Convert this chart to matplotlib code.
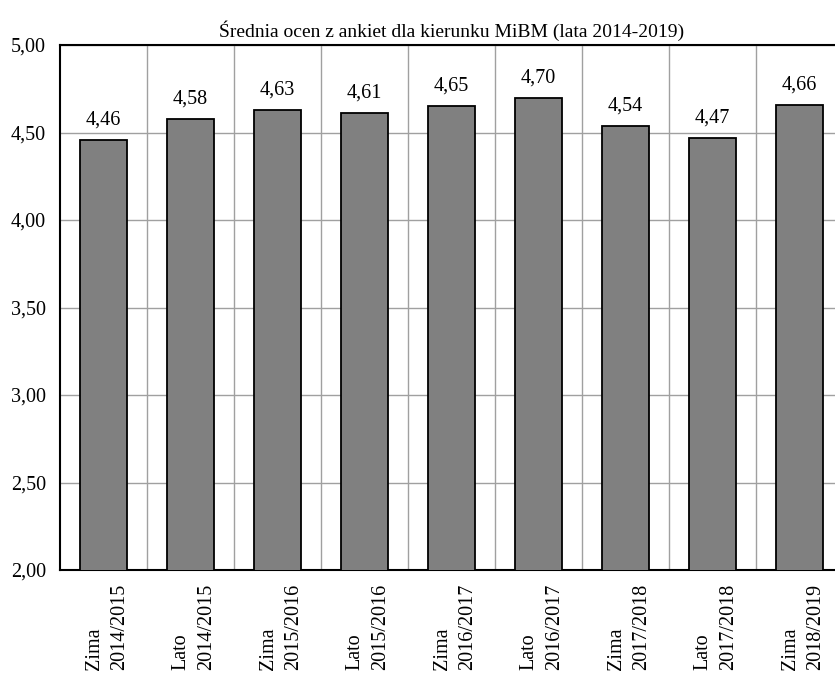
import numpy as np
import matplotlib
matplotlib.use("Agg")
import matplotlib.pyplot as plt
from matplotlib.ticker import FixedLocator, FuncFormatter

plt.rcParams["font.family"] = ["Liberation Serif", "DejaVu Serif"]

semesters = ["Zima", "Lato", "Zima", "Lato", "Zima", "Lato", "Zima", "Lato", "Zima"]
years = ["2014/2015", "2014/2015", "2015/2016", "2015/2016", "2016/2017",
         "2016/2017", "2017/2018", "2017/2018", "2018/2019"]
scores = [4.46, 4.58, 4.63, 4.61, 4.65, 4.70, 4.54, 4.47, 4.66]
title = "Średnia ocen z ankiet dla kierunku MiBM (lata 2014-2019)"

labels = [f"{s}\n{y}" for s, y in zip(semesters, years)]
x = np.arange(len(scores))


def comma(v, _=None):
    return f"{v:.2f}".replace(".", ",")


fig = plt.figure(figsize=(8.35, 6.73), dpi=100)
# axes runs a little past the right edge, like the original
ax = fig.add_axes([60 / 835, 1 - 570 / 673, 9 * 87 / 835, 525 / 673])

bars = ax.bar(x, scores, width=0.55, color="#808080", edgecolor="black",
              linewidth=1.3, zorder=3)
for b, v in zip(bars, scores):
    ax.annotate(comma(v), (b.get_x() + b.get_width() / 2, v),
                xytext=(0, 7.5), textcoords="offset points",
                ha="center", va="bottom", fontsize=14.5)

ax.set_xlim(-0.5, len(scores) - 0.5)
ax.set_ylim(2.0, 5.0)
ax.set_yticks(np.arange(2.0, 5.01, 0.5))
ax.yaxis.set_major_formatter(FuncFormatter(comma))

# ticks are invisible (length 0); small offset centres the two-line labels
ax.set_xticks(x + 0.04)
ax.set_xticklabels(labels, rotation=90, va="top", ha="center",
                   multialignment="left", linespacing=1.45)
ax.xaxis.set_minor_locator(FixedLocator(x[:-1] + 0.5))

ax.grid(axis="y", which="major", color="#a0a0a0", linewidth=1, zorder=0)
ax.grid(axis="x", which="minor", color="#a0a0a0", linewidth=1, zorder=0)
ax.tick_params(axis="both", which="both", length=0, labelsize=14.5)
ax.tick_params(axis="y", pad=10)
ax.tick_params(axis="x", pad=10)

for sp in ax.spines.values():
    sp.set_linewidth(1.5)

ax.set_title(title, fontsize=14, pad=6)

fig.savefig("out.png", dpi=100)
